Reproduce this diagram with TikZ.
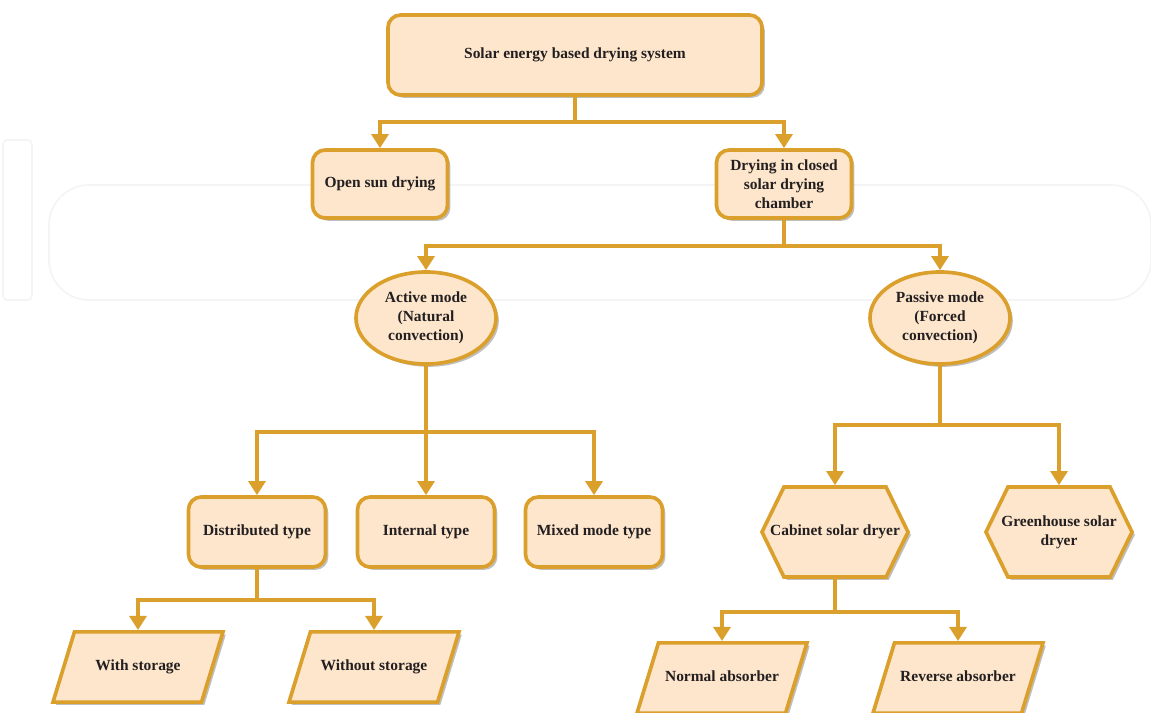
\documentclass[tikz,border=0pt]{standalone}
\usepackage{fontspec}
\setmainfont{Liberation Serif}
\usetikzlibrary{arrows.meta,calc,shapes.geometric,shapes.symbols,shadows}
\definecolor{dryfill}{RGB}{253,230,204}
\definecolor{dryline}{RGB}{219,159,44}
\definecolor{drytext}{RGB}{35,31,32}
\definecolor{wmark}{RGB}{243,245,245}

\tikzset{
	base/.style={draw=dryline, fill=dryfill, line width=2.6pt, text=drytext,
		font=\fontsize{11}{13.5}\selectfont\bfseries, align=center,
		drop shadow={shadow xshift=2pt, shadow yshift=-2pt, fill=black!50, opacity=.5}},
	rbox/.style={base, rounded corners=9pt, minimum width=3.375cm, minimum height=1.7cm},
	oval/.style={base, ellipse, minimum width=3.5cm, minimum height=2.3cm, inner sep=0pt},
	hexa/.style={base, signal, signal to=east and west, signal pointer angle=128,
		inner xsep=-25pt, minimum width=3.65cm, minimum height=2.25cm},
	slant/.style={base, trapezium, trapezium left angle=73, trapezium right angle=107,
		trapezium stretches body=true, text height=7.5pt, text depth=2.5pt,
		inner ysep=20pt, minimum width=4.25cm},
	link/.style={draw=dryline, line width=2.8pt},
	arr/.style={link, -{Triangle[width=12pt,length=10pt]}}
}

\begin{document}
\begin{tikzpicture}[x=0.025cm, y=-0.025cm]
		\useasboundingbox (0,0) rectangle (1151,712);
		% faint watermark
		\draw[wmark, line width=1.2pt, rounded corners=3pt] (3,140) rectangle (32,300);
		\draw[wmark, line width=1.2pt, rounded corners=1cm] (49,185) rectangle (1151,300);

		\node[rbox, minimum width=9.35cm, minimum height=2cm] (top) at (575,55) {Solar energy based drying system};
		\node[rbox] (open) at (380,184) {Open sun drying};
		\node[rbox] (closed) at (784,184) {Drying in closed\\solar drying\\chamber};
		\node[oval] (active) at (426,318) {Active mode\\(Natural\\convection)};
		\node[oval] (passive) at (940,318) {Passive mode\\(Forced\\convection)};
		\node[rbox, minimum width=3.425cm, minimum height=1.75cm] (dist) at (257,532) {Distributed type};
		\node[rbox, minimum width=3.425cm, minimum height=1.75cm] (intern) at (426,532) {Internal type};
		\node[rbox, minimum width=3.425cm, minimum height=1.75cm] (mixed) at (594,532) {Mixed mode type};
		\node[hexa] (cabinet) at (835,532) {Cabinet solar dryer};
		\node[hexa] (green) at (1059,532) {Greenhouse solar\\dryer};
		\node[slant] (withs) at (138,667) {With storage};
		\node[slant] (without) at (374,667) {Without storage};
		\node[slant] (normal) at (722,678) {Normal absorber};
		\node[slant] (reverse) at (958,678) {Reverse absorber};

		% junctions
		\coordinate (jtop) at (575,122);
		\coordinate (jclosed) at (784,246);
		\coordinate (jactive) at (426,432);
		\coordinate (jpassive) at (940,425);
		\coordinate (jdist) at (257,600);
		\coordinate (jcab) at (835,612);

		\draw[link] (top.south) -- (jtop);
		\draw[arr] (jtop) -| (open.north);
		\draw[arr] (jtop) -| (closed.north);
		\draw[link] (closed.south) -- (jclosed);
		\draw[arr] (jclosed) -| (active.north);
		\draw[arr] (jclosed) -| (passive.north);
		\draw[link] (active.south) -- (jactive);
		\draw[arr] (jactive) -| (dist.north);
		\draw[arr] (jactive) -- (intern.north);
		\draw[arr] (jactive) -| (mixed.north);
		\draw[link] (passive.south) -- (jpassive);
		\draw[arr] (jpassive) -| (cabinet.north);
		\draw[arr] (jpassive) -| (green.north);
		\draw[link] (dist.south) -- (jdist);
		\draw[arr] (jdist) -| (withs.north);
		\draw[arr] (jdist) -| (without.north);
		\draw[link] (cabinet.south) -- (jcab);
		\draw[arr] (jcab) -| (normal.north);
		\draw[arr] (jcab) -| (reverse.north);
	\end{tikzpicture}
\end{document}
